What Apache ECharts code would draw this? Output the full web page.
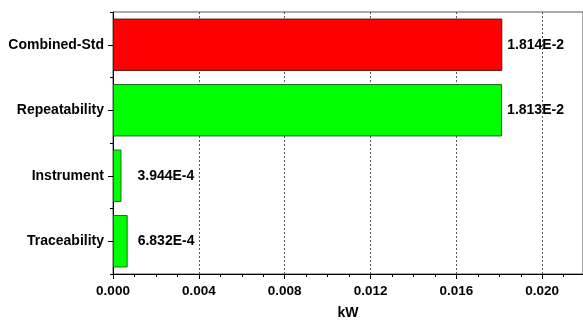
<!DOCTYPE html>
<html>
<head>
<meta charset="utf-8">
<script src="https://cdn.jsdelivr.net/npm/echarts@6/dist/echarts.min.js"></script>
<style>
  html, body { margin: 0; padding: 0; background: #fff; }
  #chart { width: 583px; height: 320px; }
</style>
</head>
<body>
<div id="chart"></div>
<script>
// Uncertainty components, listed bottom to top
const components = ['Traceability', 'Instrument', 'Repeatability', 'Combined-Std'];
const values = [6.832e-4, 3.944e-4, 1.813e-2, 1.814e-2];
const valueLabels = ['6.832E-4', '3.944E-4', '1.813E-2', '1.814E-2'];
const barColors = ['#00ff00', '#00ff00', '#00ff00', '#ff0000'];
const borderColors = ['#1a6a1a', '#1a6a1a', '#1a6a1a', '#5a1a1a'];
const labelGaps = [10, 16, 5, 5];

const font = '"Liberation Sans", Arial, sans-serif';
const fs = 13.5;
const fsCat = 14;

const chart = echarts.init(document.getElementById('chart'));
chart.setOption({
  animation: false,
  grid: {
    left: 113, right: 0, top: 12, bottom: 46,
    outerBoundsMode: 'none',
    containLabel: false,
    show: true, borderColor: '#555', borderWidth: 1
  },
  xAxis: {
    type: 'value',
    min: 0, max: 0.0219, interval: 0.004,
    name: 'kW',
    nameLocation: 'middle',
    nameGap: 32,
    nameTextStyle: { fontFamily: font, fontWeight: 'bold', fontSize: fsCat, color: '#000' },
    axisLine: { show: true, lineStyle: { color: '#000', width: 1 } },
    axisTick: { show: true, length: 5, lineStyle: { color: '#000' } },
    minorTick: { show: true, splitNumber: 4, length: 3, lineStyle: { color: '#000' } },
    axisLabel: {
      fontFamily: font, fontWeight: 'bold', fontSize: fs, color: '#000', margin: 10,
      formatter: v => (v > 0.0205 ? '' : v.toFixed(3))
    },
    splitLine: { show: true, lineStyle: { color: '#555', type: [2, 2], width: 1 } }
  },
  yAxis: [{
    type: 'category',
    data: components,
    axisLine: { show: true, lineStyle: { color: '#000', width: 1 } },
    axisTick: { show: true, alignWithLabel: true, length: 5, lineStyle: { color: '#000' } },
    axisLabel: { fontFamily: font, fontWeight: 'bold', fontSize: fsCat, color: '#000', margin: 9 },
    splitLine: { show: false }
  }, {
    // short ticks at the category boundaries
    type: 'category',
    data: components,
    position: 'left',
    axisLine: { show: false },
    axisTick: { show: true, alignWithLabel: false, length: 3, lineStyle: { color: '#000' } },
    axisLabel: { show: false },
    splitLine: { show: false }
  }],
  series: [{
    type: 'bar',
    barWidth: '80%',
    data: values.map((v, i) => ({
      value: v,
      itemStyle: { color: barColors[i], borderColor: borderColors[i], borderWidth: 1 },
      label: {
        show: true,
        position: 'right',
        distance: labelGaps[i],
        formatter: valueLabels[i],
        fontFamily: font, fontWeight: 'bold', fontSize: fsCat, color: '#000'
      }
    }))
  }]
});
</script>
</body>
</html>
